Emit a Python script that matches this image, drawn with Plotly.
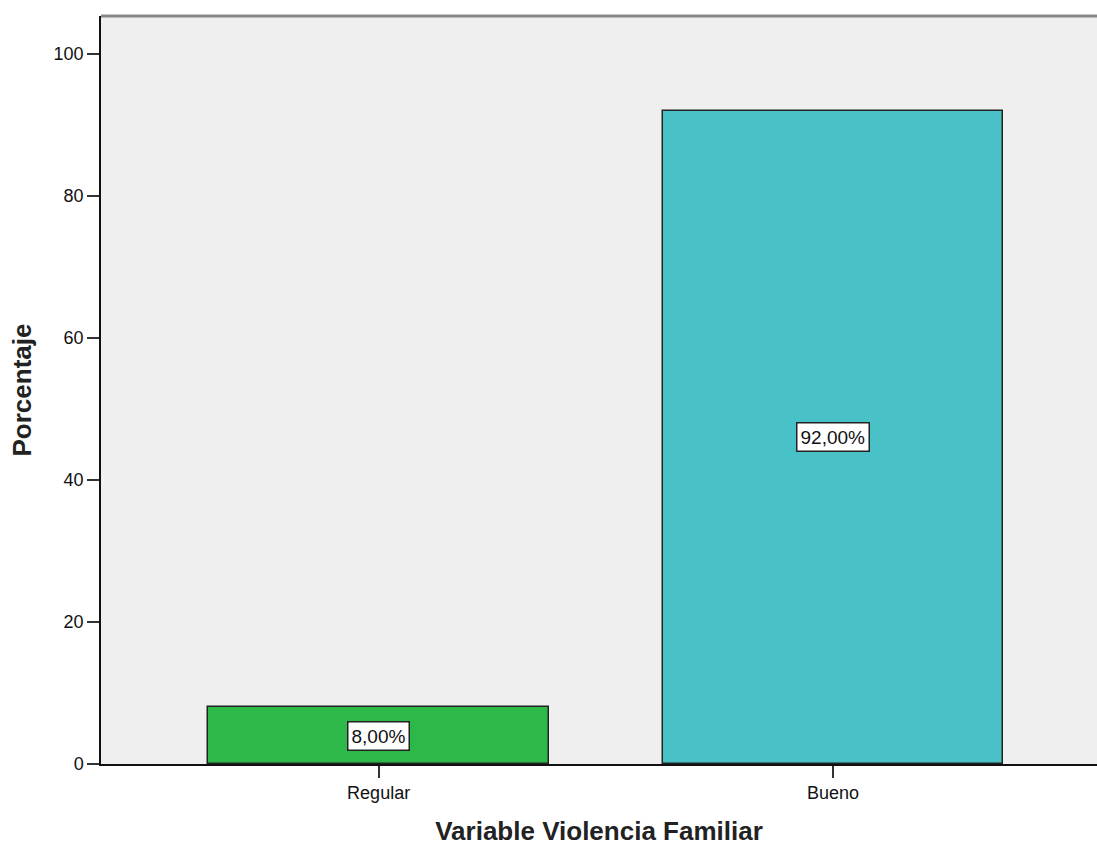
import plotly.graph_objects as go

categories = ["Regular", "Bueno"]
percentages = [8.0, 92.0]
labels = ["8,00%", "92,00%"]
colors = ["#2DB84A", "#48C2C6"]

fig = go.Figure()
fig.add_trace(go.Bar(
    x=categories, y=percentages, width=0.75,
    marker=dict(color=colors, line=dict(color="#222222", width=1.5)),
    hoverinfo="skip",
))

for c, v, t in zip(categories, percentages, labels):
    fig.add_annotation(
        x=c, y=v / 2, text=t, showarrow=False,
        font=dict(family="Liberation Sans, Arial", size=19, color="#111111"),
        bgcolor="white", bordercolor="#222222", borderwidth=1.5, borderpad=3,
    )

fig.add_shape(type="line", xref="paper", yref="paper", x0=0, x1=1, y0=1, y1=1,
              line=dict(color="#888888", width=3))

fig.update_layout(
    width=1097, height=846,
    margin=dict(l=101, r=0, t=16, b=82),
    paper_bgcolor="white", plot_bgcolor="#EFEFEF",
    showlegend=False,
    font=dict(family="Liberation Sans, Arial", color="#111111"),
    bargap=0,
)
fig.update_xaxes(
    range=[-0.611, 1.581], showgrid=False, zeroline=False,
    showline=True, linecolor="#111111", linewidth=1.5,
    ticks="outside", ticklen=12, tickcolor="#333333", tickwidth=1.5,
    tickfont=dict(size=18, color="#111111"),
    title=dict(text="<b>Variable Violencia Familiar</b>", font=dict(size=26, color="#222222"), standoff=20),
)
fig.update_yaxes(
    range=[0, 105.35], tickvals=[0, 20, 40, 60, 80, 100], showgrid=False, zeroline=False,
    showline=True, linecolor="#111111", linewidth=1.5,
    ticks="outside", ticklen=12, tickcolor="#333333", tickwidth=1.5,
    tickfont=dict(size=18, color="#111111"),
    title=dict(text="<b>Porcentaje</b>", font=dict(size=26, color="#222222"), standoff=15),
)

fig.write_html("out.html", config={"displayModeBar": False},
               post_script="document.body.style.margin='0px';document.body.style.overflow='hidden';")
